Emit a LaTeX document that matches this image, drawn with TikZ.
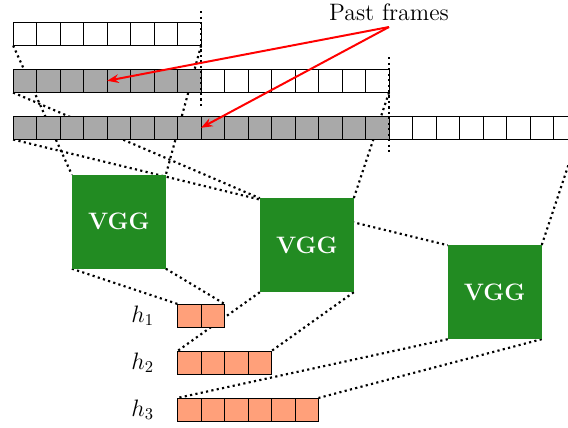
\documentclass[tikz,border=0pt]{standalone}
\usepackage{amsmath}
\usetikzlibrary{arrows.meta, positioning, backgrounds}

\definecolor{framegray}{RGB}{169,169,169}
\definecolor{vggreen}{RGB}{34,139,34}
\definecolor{featsalmon}{RGB}{255,160,122}

\begin{document}
\begin{tikzpicture}[
        cell/.style={draw, rectangle, fill=white, minimum size=0.5cm, inner sep=0pt, outer sep=0pt},
        past/.style={fill=framegray},
        feat/.style={fill=featsalmon},
        vgg/.style={rectangle, fill=vggreen, minimum size=2cm, inner sep=0pt, outer sep=0pt, text=white, font=\Large\bfseries},
        link/.style={line width=1.3pt, dotted},
        arrow/.style={-{Stealth[length=7pt]}, very thick, red}
    ]
        \useasboundingbox (-0.28, 0.47) rectangle (11.81, -8.62);

        % === Frame sequences ===
        \foreach \i in {1,...,8}
            \node[cell] (r1-\i) at ({0.5*\i-0.25}, -0.25) {};

        \foreach \i in {1,...,8}
            \node[cell, past] (r2-\i) at ({0.5*\i-0.25}, -1.25) {};
        \foreach \i in {9,...,16}
            \node[cell] (r2-\i) at ({0.5*\i-0.25}, -1.25) {};

        \foreach \i in {1,...,16}
            \node[cell, past] (r3-\i) at ({0.5*\i-0.25}, -2.25) {};
        \foreach \i in {17,...,24}
            \node[cell] (r3-\i) at ({0.5*\i-0.25}, -2.25) {};

        % Window boundaries
        \draw[link] ([yshift=0.23cm]r1-8.north east) -- ([yshift=-0.33cm]r2-8.south east);
        \draw[link] ([yshift=0.25cm]r2-16.north east) -- ([yshift=-0.33cm]r3-16.south east);

        % === VGG blocks ===
        \node[vgg] (vgg1) at (2.25, -4.25) {VGG};
        \node[vgg] (vgg2) at (6.25, -4.75) {VGG};
        \node[vgg] (vgg3) at (10.25, -5.75) {VGG};

        % === Features ===
        \foreach \i in {1,2}
            \node[cell, feat] (h1-\i) at ({3.25+0.5*\i}, -6.25) {};
        \foreach \i in {1,...,4}
            \node[cell, feat] (h2-\i) at ({3.25+0.5*\i}, -7.25) {};
        \foreach \i in {1,...,6}
            \node[cell, feat] (h3-\i) at ({3.25+0.5*\i}, -8.25) {};

        \node[left=0.38cm of h1-1, font=\Large] (lab1) {$h_1$};
        \node[left=0.38cm of h2-1, font=\Large] (lab2) {$h_2$};
        \node[left=0.38cm of h3-1, font=\Large] (lab3) {$h_3$};

        % Dotted links behind everything
        \begin{scope}[on background layer]
            \draw[link] (r1-1.south west) -- (vgg1.north west);
            \draw[link] (r1-8.south east) -- (vgg1.north east);
            \draw[link] (r2-1.south west) -- (vgg2.north west);
            \draw[link] (r2-16.south east) -- (vgg2.north east);
            \draw[link] (r3-1.south west) -- (vgg3.north west);
            \draw[link] (r3-24.south east) -- (vgg3.north east);

            \draw[link] (vgg1.south west) -- (h1-1.north west);
            \draw[link] (vgg1.south east) -- (h1-2.north east);
            \draw[link] (vgg2.south west) -- (h2-1.north west);
            \draw[link] (vgg2.south east) -- (h2-4.north east);
            \draw[link] (vgg3.south west) -- (h3-1.north west);
            \draw[link] (vgg3.south east) -- (h3-6.north east);
        \end{scope}

        % === Annotation ===
        \node[font=\Large] (pastlbl) at (8, 0.2) {Past frames};
        \draw[arrow] (pastlbl.south) -- (r2-4.east);
        \draw[arrow] (pastlbl.south) -- (r3-8.east);

    \end{tikzpicture}
\end{document}
